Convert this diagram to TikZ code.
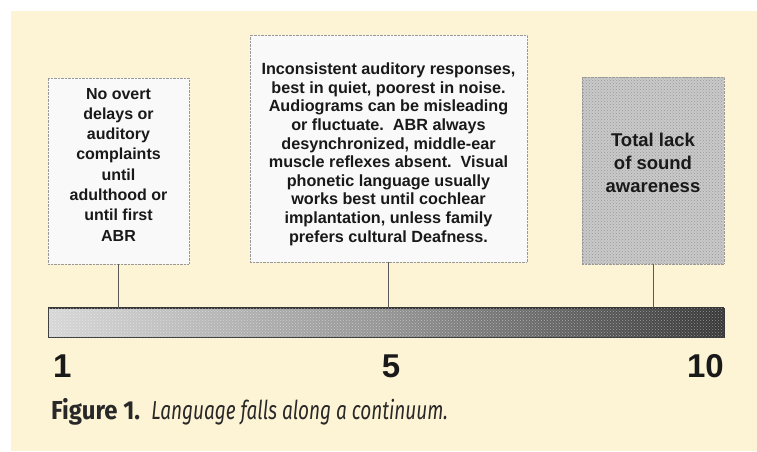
\documentclass[tikz,border=0pt]{standalone}
\usepackage{fontspec}
\setmainfont{Liberation Sans}
\newfontfamily\capboldfont[FakeStretch=0.92]{Fira Sans}
\newfontfamily\capitfont[FakeStretch=0.73]{Fira Sans}
\usetikzlibrary{patterns}
\definecolor{cream}{RGB}{253,243,213}
\definecolor{barlight}{RGB}{215,215,215}
\definecolor{barmid}{RGB}{148,148,148}
\definecolor{bardark}{RGB}{55,55,55}
\definecolor{inkgray}{RGB}{40,40,40}

\begin{document}
\begin{tikzpicture}[x=1pt,y=-1pt,
    box/.style={draw=gray!80, densely dotted, fill=white!95!gray, inner sep=0pt},
    boxtext/.style={anchor=north, align=center, inner sep=0pt, text=black!90,
      font=\fontsize{16}{19}\selectfont\bfseries},
    conn/.style={draw=gray!70!black, line width=0.6pt},
    tick/.style={inner sep=0pt, text=black!90, font=\fontsize{33}{33}\selectfont\bfseries}]
  % background
  \useasboundingbox (0,0) rectangle (757,451);
  \fill[white] (0,0) rectangle (757,451);
  \fill[cream] (11,11) rectangle (757,451);

  % the three boxes
  \node[box, minimum width=141pt, minimum height=186pt] (mild) at (118.5,171) {};
  \node[box, minimum width=277pt, minimum height=227pt] (middle) at (388.5,148.5) {};
  \node[box, fill=gray!42, minimum width=142pt, minimum height=187pt,
    postaction={pattern=crosshatch dots, pattern color=gray!80}] (severe) at (653,170.5) {};

  \node[boxtext, font=\fontsize{16}{20.3}\selectfont\bfseries] (mildtext) at (mild.north) [yshift=-10pt]
    {No overt\\delays or\\auditory\\complaints\\until\\adulthood or\\until first\\ABR};
  \node[boxtext, font=\fontsize{16.2}{18.6}\selectfont\bfseries] (middletext) at (middle.north) [yshift=-28pt]
    {Inconsistent auditory responses,\\best in quiet, poorest in noise.\\Audiograms can be misleading\\or fluctuate.\ \ ABR always\\desynchronized, middle-ear\\muscle reflexes absent.\ \ Visual\\phonetic language usually\\works best until cochlear\\implantation, unless family\\prefers cultural Deafness.};
  \node[boxtext, font=\fontsize{18.5}{23}\selectfont\bfseries] (severetext) at (severe.north) [yshift=-56pt]
    {Total lack\\of sound\\awareness};

  % continuum bar
  \node[draw=bardark, line width=0.5pt, minimum width=676pt, minimum height=29pt, inner sep=0pt,
    left color=barlight, right color=bardark, middle color=barmid,
    postaction={pattern=crosshatch dots, pattern color=white, opacity=0.45}] (bar) at (386,322.5) {};
  \draw[bardark, line width=1.2pt] (bar.north west) -- (bar.north east);

  \draw[conn] (mild.south) -- (mild.south |- bar.north);
  \draw[conn] (middle.south) -- (middle.south |- bar.north);
  \draw[conn] (severe.south) -- (severe.south |- bar.north);

  % scale numbers
  \node[tick, anchor=base west] (one) at (53,377) {1};
  \node[tick, anchor=base] (five) at (391,377) {5};
  \node[tick, anchor=base east] (ten) at (724,377) {10};

  % caption
  \node[anchor=base west, inner sep=0pt, text=inkgray] (caption) at (51,419)
    {\fontsize{26}{26}\selectfont\capboldfont\bfseries Figure 1.\ \ \capitfont\mdseries\itshape Language falls along a continuum.};
\end{tikzpicture}
\end{document}
